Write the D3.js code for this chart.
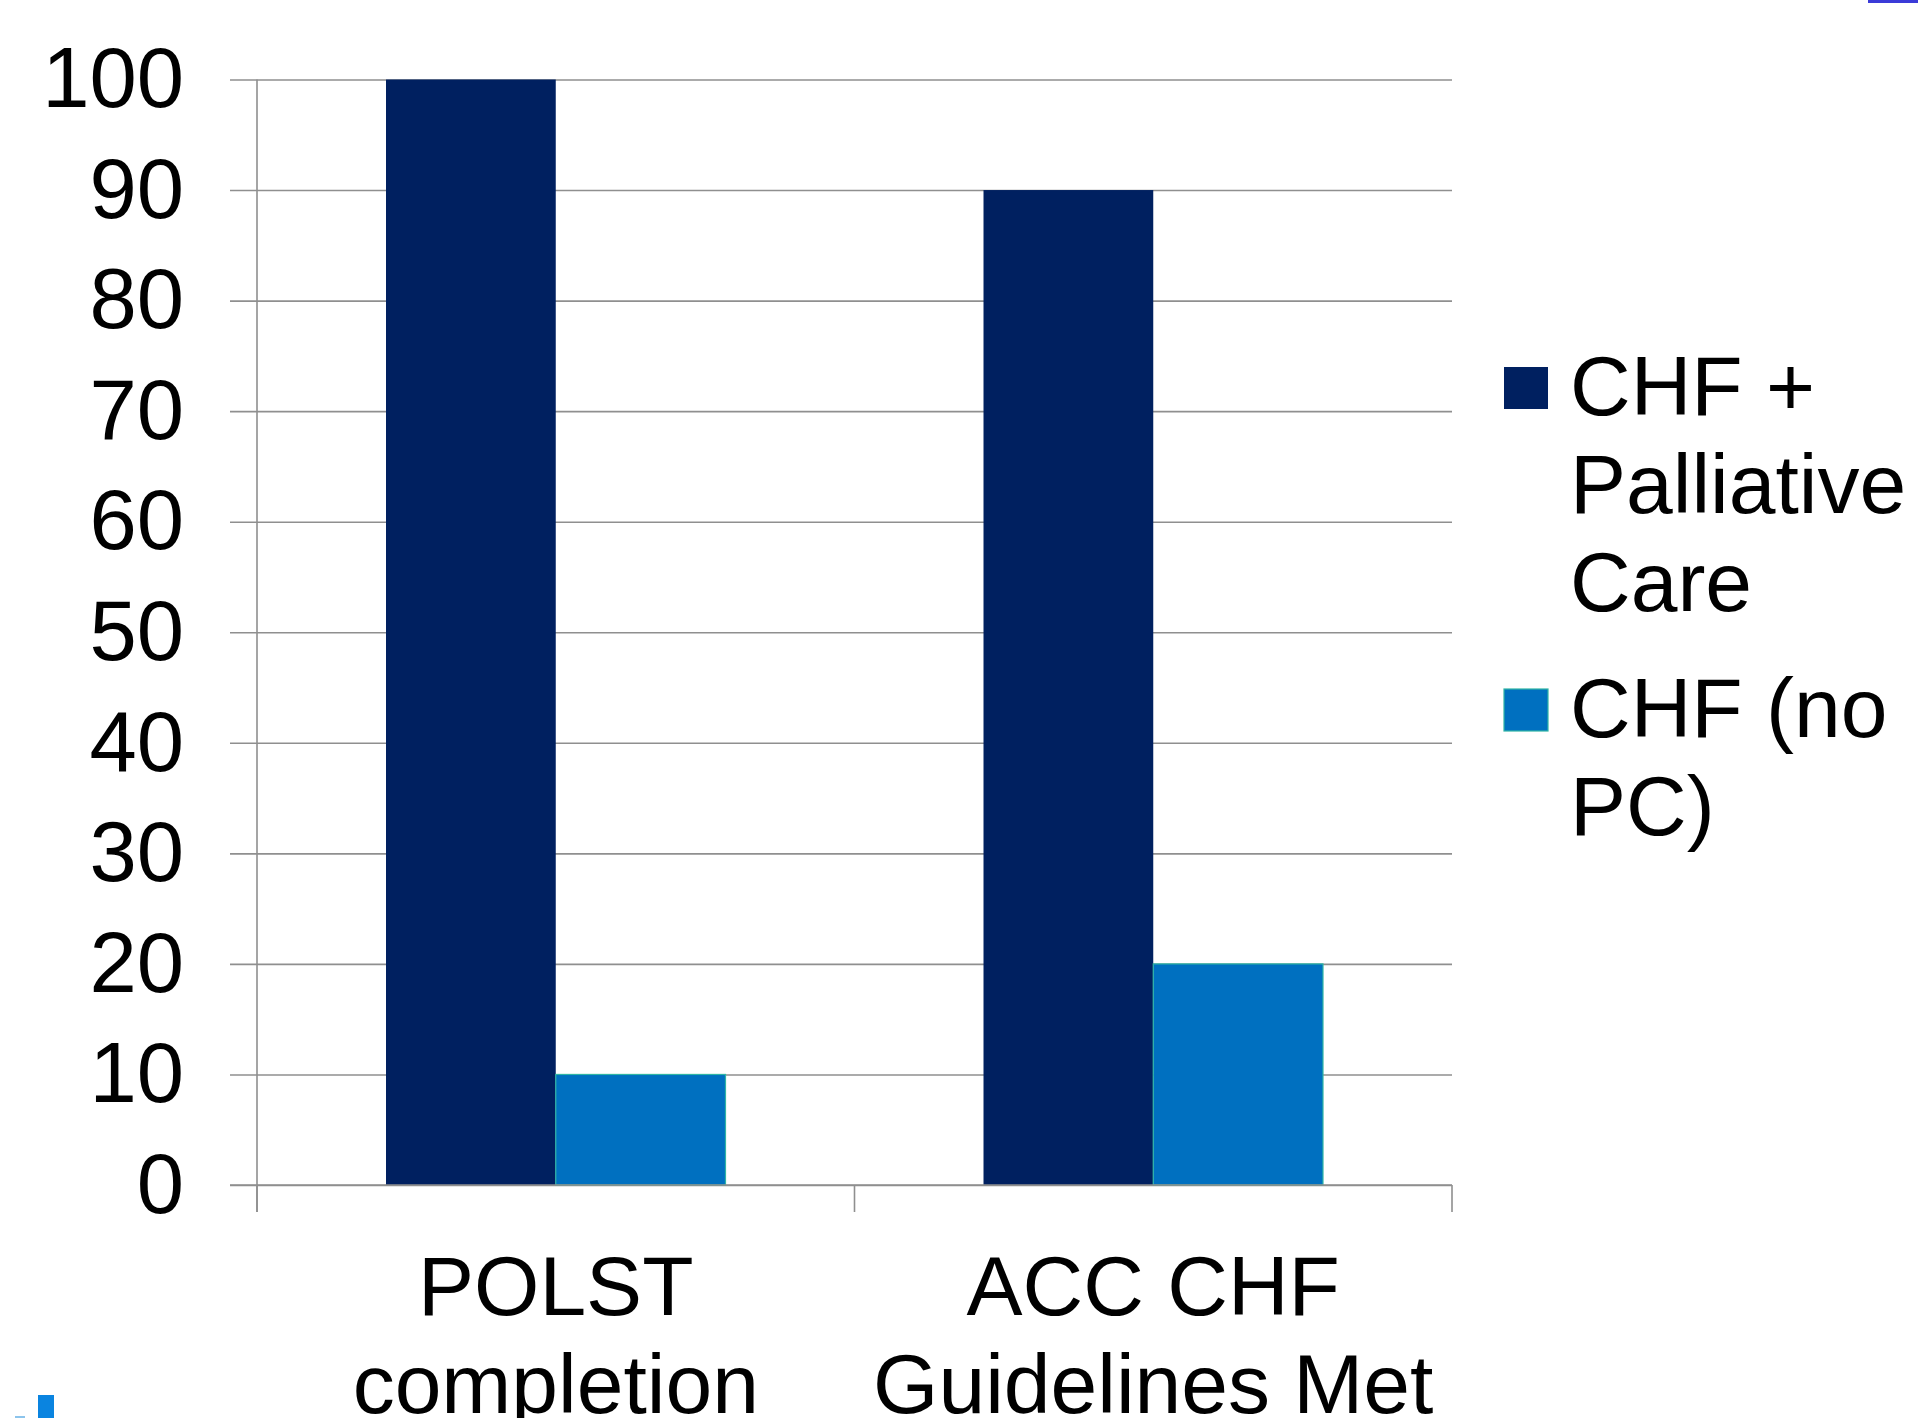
<!DOCTYPE html>
<html>
<head>
<meta charset="utf-8">
<script src="https://cdn.jsdelivr.net/npm/d3@7"></script>
<style>
  html, body { margin: 0; padding: 0; background: #ffffff; }
  svg { display: block; }
  text { font-family: "Liberation Sans", Arial, sans-serif; fill: #000; }
</style>
</head>
<body>
<svg id="chart" width="1918" height="1418"></svg>
<script>
// Categories and their wrapped axis labels
const categories = ["POLST completion", "ACC CHF Guidelines Met"];
const categoryLines = [["POLST", "completion"], ["ACC CHF", "Guidelines Met"]];

// Series
const seriesNames = ["CHF + Palliative Care", "CHF (no PC)"];
const seriesLines = [["CHF +", "Palliative", "Care"], ["CHF (no", "PC)"]];
const seriesColors = ["#002060", "#0070C0"];
const seriesStroke = ["none", "#2fb5a5"];

// Percent values per series, in category order
const palliativeValues = [100, 90];
const noPcValues = [10, 20];

const yTicks = [0, 10, 20, 30, 40, 50, 60, 70, 80, 90, 100];

const rows = categories.map((c, i) => ({
  category: c,
  values: [
    { series: seriesNames[0], value: palliativeValues[i], si: 0 },
    { series: seriesNames[1], value: noPcValues[i], si: 1 }
  ]
}));

const svg = d3.select("#chart");

const plot = { left: 257, right: 1452, top: 79.5, bottom: 1185 };
const tickLen = 27;
const tickFont = 85;
const labelFont = 84;

const x0 = d3.scaleBand().domain(categories).range([plot.left, plot.right]).padding(0);
const x1 = d3.scaleBand().domain(seriesNames).range([0, x0.bandwidth()])
  .paddingInner(0).paddingOuter(0.76);
const y = d3.scaleLinear().domain([0, 100]).range([plot.bottom, plot.top]);

const gridColor = "#8f8f8f";

// Horizontal gridlines (extend left past the axis as the tick marks)
const grid = svg.append("g")
  .attr("transform", `translate(${plot.right},0)`)
  .call(d3.axisLeft(y).tickValues(yTicks).tickSize(plot.right - plot.left + tickLen).tickFormat(""));
grid.select(".domain").remove();
grid.selectAll(".tick line").attr("stroke", gridColor).attr("stroke-width", 1.6);

// Bars
const groups = svg.append("g").selectAll("g")
  .data(rows).join("g")
  .attr("transform", d => `translate(${x0(d.category)},0)`);

groups.selectAll("rect")
  .data(d => d.values).join("rect")
  .attr("x", d => x1(d.series))
  .attr("width", x1.bandwidth())
  .attr("y", d => y(d.value))
  .attr("height", d => y(0) - y(d.value))
  .attr("fill", d => seriesColors[d.si])
  .attr("stroke", d => seriesStroke[d.si])
  .attr("stroke-width", 1.2);

// Baseline at zero drawn over the bars
svg.append("line")
  .attr("x1", plot.left - tickLen).attr("x2", plot.right)
  .attr("y1", y(0)).attr("y2", y(0))
  .attr("stroke", gridColor).attr("stroke-width", 1.6);

// Y axis line and labels
svg.append("line")
  .attr("x1", plot.left).attr("x2", plot.left)
  .attr("y1", y(100)).attr("y2", y(0) + tickLen)
  .attr("stroke", gridColor).attr("stroke-width", 1.6);

const yAxis = svg.append("g")
  .attr("transform", `translate(${plot.left},0)`)
  .call(d3.axisLeft(y).tickValues(yTicks).tickSize(0).tickPadding(plot.left - 184));
yAxis.select(".domain").remove();
yAxis.selectAll("text")
  .attr("font-size", tickFont)
  .attr("font-family", "Liberation Sans, Arial, sans-serif")
  .attr("fill", "#000");

// Category separators below the baseline
const boundaries = categories.map(c => x0(c)).concat([x0(categories[categories.length - 1]) + x0.bandwidth()]);
svg.append("g").selectAll("line")
  .data(boundaries).join("line")
  .attr("x1", d => d).attr("x2", d => d)
  .attr("y1", y(0)).attr("y2", y(0) + tickLen)
  .attr("stroke", gridColor).attr("stroke-width", 1.6);

// Category labels
const catText = svg.append("g").selectAll("text")
  .data(categories).join("text")
  .attr("text-anchor", "middle")
  .attr("font-size", labelFont)
  .attr("x", d => x0(d) + x0.bandwidth() / 2)
  .attr("y", 1315);
catText.selectAll("tspan")
  .data((d, i) => categoryLines[i]).join("tspan")
  .attr("x", function () { return d3.select(this.parentNode).attr("x"); })
  .attr("dy", (d, i) => i === 0 ? 0 : 98)
  .text(d => d);

// Legend
const legendTop = [415, 737];
const legendX = 1570;
const legend = svg.append("g").selectAll("g")
  .data(seriesNames).join("g");
legend.append("rect")
  .attr("x", 1504)
  .attr("y", (d, i) => legendTop[i] - 48)
  .attr("width", 44).attr("height", 42)
  .attr("fill", (d, i) => seriesColors[i])
  .attr("stroke", (d, i) => seriesStroke[i])
  .attr("stroke-width", 1.2);
const legendText = legend.append("text")
  .attr("font-size", labelFont)
  .attr("x", legendX)
  .attr("y", (d, i) => legendTop[i]);
legendText.selectAll("tspan")
  .data((d, i) => seriesLines[i]).join("tspan")
  .attr("x", legendX)
  .attr("dy", (d, i) => i === 0 ? 0 : 98)
  .text(d => d);

// Slide decorations at the edges
svg.append("rect").attr("x", 1868).attr("y", 0).attr("width", 50).attr("height", 3).attr("fill", "#3b3bd8");
svg.append("rect").attr("x", 38).attr("y", 1395).attr("width", 16).attr("height", 23).attr("fill", "#0a84e0");
svg.append("rect").attr("x", 15).attr("y", 1416).attr("width", 10).attr("height", 2).attr("fill", "#8cc4ec");
</script>
</body>
</html>
